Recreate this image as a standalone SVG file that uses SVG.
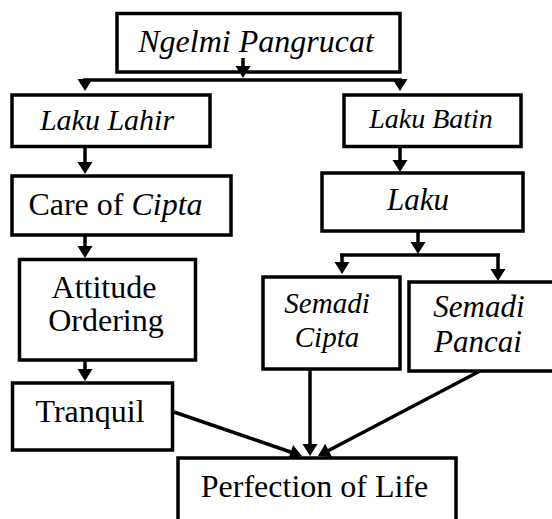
<svg xmlns="http://www.w3.org/2000/svg" width="552" height="519" viewBox="0 0 552 519">
<style>
.box{fill:#fff;stroke:#000;stroke-width:3.5}
.t{font-family:'Liberation Serif','Times New Roman',serif;fill:#000;text-anchor:middle}
.i{font-style:italic}
.c{fill:none;stroke:#000;stroke-width:3.5}
.a{marker-end:url(#ah)}
</style>
<defs>
<marker id="ah" markerUnits="userSpaceOnUse" markerWidth="12" markerHeight="15" refX="6" refY="7.5" orient="auto" viewBox="0 0 12 15" overflow="visible">
<path d="M0,0 L12,7.5 L0,15 z" fill="#000"/>
</marker>
</defs>
<rect width="552" height="519" fill="#fff"/>
<g id="n-ngelmi"><rect class="box" x="117" y="13.5" width="283" height="58.5"/><text class="t i" x="256" y="52" font-size="32">Ngelmi Pangrucat</text></g>
<g id="n-lahir"><rect class="box" x="12" y="95" width="198" height="51.5"/><text class="t i" x="107" y="130" font-size="30">Laku Lahir</text></g>
<g id="n-batin"><rect class="box" x="344" y="95" width="177" height="51.5"/><text class="t i" x="431" y="128" font-size="28">Laku Batin</text></g>
<g id="n-care"><rect class="box" x="12" y="176" width="219" height="59"/><text class="t" x="115.5" y="215" font-size="32">Care of <tspan class="i">Cipta</tspan></text></g>
<g id="n-laku"><rect class="box" x="322" y="173" width="201" height="58"/><text class="t i" x="418" y="210" font-size="31">Laku</text></g>
<g id="n-attitude"><rect class="box" x="19.5" y="259.5" width="176" height="100.5"/><text class="t" x="104" y="298" font-size="32">Attitude</text><text class="t" x="106" y="331" font-size="32">Ordering</text></g>
<g id="n-scipta"><rect class="box" x="263" y="277" width="137" height="92"/><text class="t i" x="327" y="313" font-size="29">Semadi</text><text class="t i" x="327" y="347" font-size="29">Cipta</text></g>
<g id="n-spancai"><rect class="box" x="409" y="282" width="160" height="89"/><text class="t i" x="479" y="317" font-size="31">Semadi</text><text class="t i" x="478" y="352" font-size="31">Pancai</text></g>
<g id="n-tranquil"><rect class="box" x="12.5" y="383" width="160" height="67"/><text class="t" x="90" y="422" font-size="32">Tranquil</text></g>
<g id="n-perfection"><rect class="box" x="178" y="458" width="278" height="70"/><text class="t" x="314.5" y="497" font-size="32">Perfection of Life</text></g>
<g id="connectors">
<path class="c a" d="M243 58 V72"/>
<path class="c" d="M83 80 H402"/>
<path class="c a" d="M85 80 V85"/>
<path class="c a" d="M400 80 V85"/>
<path class="c a" d="M85 147 V168"/>
<path class="c a" d="M400 147 V166"/>
<path class="c a" d="M85 235 V252"/>
<path class="c a" d="M85 360 V375"/>
<path class="c a" d="M418 231 V248"/>
<path class="c" d="M340 255 H500"/>
<path class="c a" d="M342 255 V268"/>
<path class="c a" d="M498 255 V275"/>
<path class="c a" d="M310 369 V450"/>
<path class="c a" d="M174 412 L296.3 454"/>
<path class="c a" d="M480 371 L323.3 453.2"/>
</g>
</svg>
